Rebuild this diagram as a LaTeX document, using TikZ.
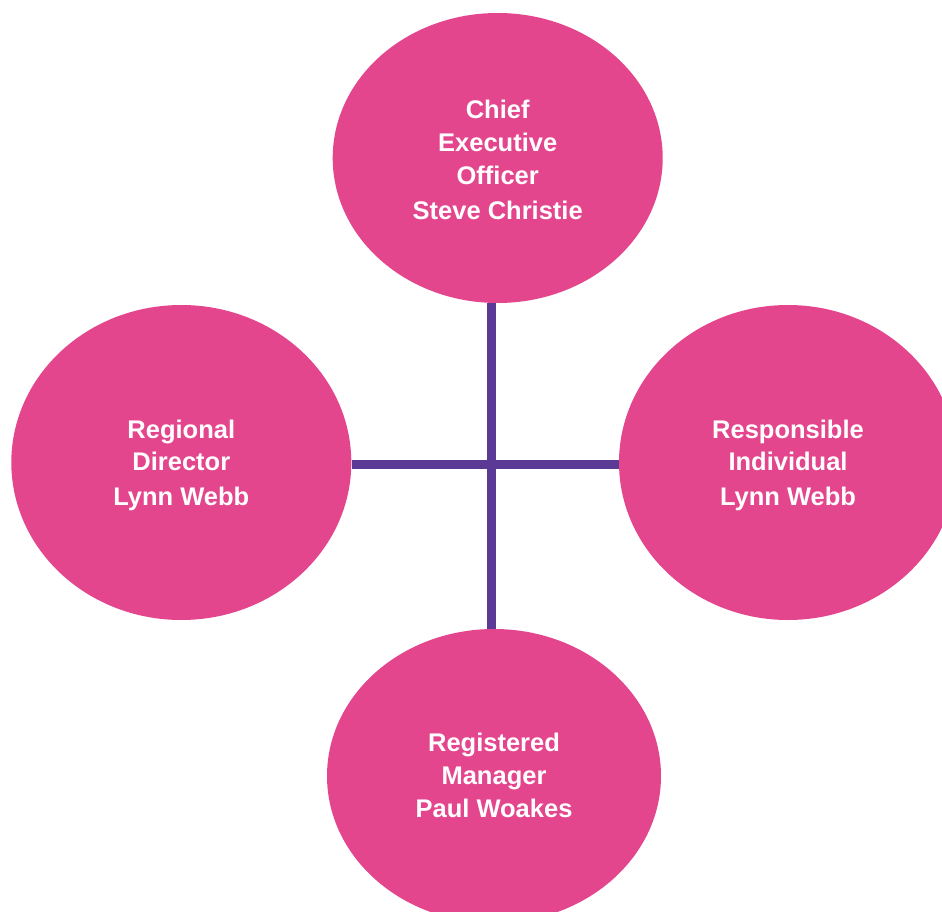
\documentclass[tikz,border=0pt]{standalone}
\usepackage{fontspec}
\setmainfont{Liberation Sans}
\usetikzlibrary{shapes.geometric}
\definecolor{rolepink}{HTML}{E4468E}
\definecolor{linkpurple}{HTML}{5A3A95}
\begin{document}
\begin{tikzpicture}[x=1pt,y=-1pt,
  role/.style={ellipse, fill=rolepink, draw=none, inner sep=0pt},
  rolelabel/.style={inner sep=0pt, text=white, align=center,
    font=\fontsize{25.5}{33}\selectfont\bfseries},
  link/.style={draw=linkpurple, line width=8.5pt}]
\useasboundingbox (0,0) rectangle (942,912);
\clip (0,0) rectangle (942,912);
\coordinate (c) at (491.5,464.5);
\path (497.7,158) coordinate (pt) (181.3,462.5) coordinate (pl)
      (788,462.5) coordinate (pr) (494,776) coordinate (pb);
\node[role, minimum width=330pt, minimum height=290pt] (ceo) at (pt) {};
\node[role, minimum width=340pt, minimum height=315pt] (rd) at (pl) {};
\node[role, minimum width=338pt, minimum height=315pt] (ri) at (pr) {};
\node[role, minimum width=334pt, minimum height=294pt] (rm) at (pb) {};
\draw[link] (c |- ceo.south) -- (c |- rm.north);
\draw[link] (rd.east |- c) -- (ri.west |- c);
\node[rolelabel] (ceot) at ([yshift=-1.5pt]ceo.center) {Chief\\Executive\\Officer\\[2pt]Steve Christie};
\node[rolelabel] (rdt) at ([yshift=-2.5pt]rd.center) {Regional\\[-1pt]Director\\[2pt]Lynn Webb};
\node[rolelabel] (rit) at ([yshift=-2.5pt]ri.center) {Responsible\\[-1pt]Individual\\[2pt]Lynn Webb};
\node[rolelabel] (rmt) at ([yshift=1pt]rm.center) {Registered\\Manager\\Paul Woakes};
\end{tikzpicture}
\end{document}
